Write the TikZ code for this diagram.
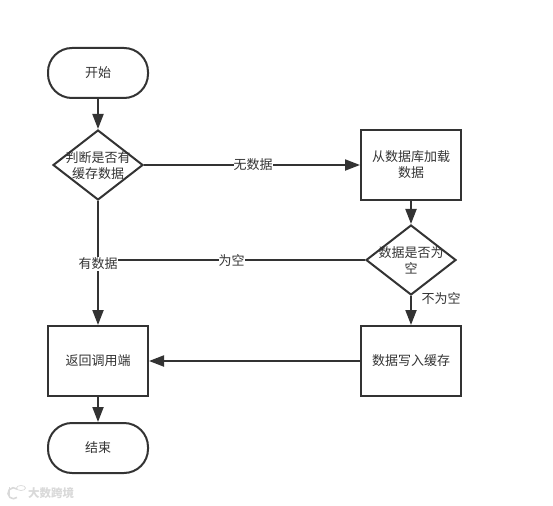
\documentclass[tikz,border=0pt]{standalone}
\usepackage{fontspec}
\setmainfont{Noto Sans CJK SC}
\usetikzlibrary{arrows.meta,shapes.geometric}
\definecolor{ink}{HTML}{333333}
\definecolor{wm}{HTML}{D9D9D9}
\newcommand\lowtxt[1]{\raisebox{-1pt}{#1}}
\tikzset{
  box/.style={draw=ink,line width=2pt,minimum width=100pt,minimum height=70pt,inner sep=1pt,align=center,text=ink,font=\fontsize{13}{16}\selectfont},
  term/.style={box,rounded corners=24pt,minimum height=50pt},
  dec/.style={draw=ink,line width=2pt,diamond,aspect=1.2857,minimum width=90pt,minimum height=70pt,inner sep=0pt},
  dectext/.style={inner sep=0pt,align=center,text=ink,font=\fontsize{13}{16}\selectfont},
  link/.style={draw=ink,line width=2pt,-{Triangle[length=15pt,width=11pt]}},
  plain/.style={draw=ink,line width=2pt},
  lab/.style={fill=white,inner xsep=0pt,inner ysep=0.5pt,text=ink,font=\fontsize{13}{13}\selectfont}
}
\begin{document}
\begin{tikzpicture}[x=1pt,y=-1pt]
\useasboundingbox (0,0) rectangle (553,505);
\node[term] (start) at (98,73) {\lowtxt{开始}};
\node[dec] (d1) at (98,165) {};
\node[dectext] (d1t) at (98,166) {判断是否有\\缓存数据};
\node[box] (load) at (411,165) {\lowtxt{从数据库加载}\\\lowtxt{数据}};
\node[dec] (d2) at (411,260) {};
\node[dectext] (d2t) at (411,260) {数据是否为\\空};
\node[box] (write) at (411,361) {\lowtxt{数据写入缓存}};
\node[box] (ret) at (98,361) {\lowtxt{返回调用端}};
\node[term] (stop) at (98,448) {\lowtxt{结束}};
\coordinate (join) at (98,260);
\draw[link] (start) -- (d1);
\draw[link] (d1) -- node[lab,pos=0.505] (l1) {无数据} (load);
\draw[link] (load) -- (d2);
\draw[plain] (d2) -- node[lab,pos=0.5,yshift=-0.5pt] (l2) {为空} (join);
\draw[link] (d1) -- (ret);
\node[lab] (l3) at (98,264) {有数据};
\draw[link] (d2) -- (write);
\node[text=ink,font=\fontsize{13}{13}\selectfont,inner sep=0pt] (l4) at (441,299) {不为空};
\draw[link] (write) -- (ret);
\draw[link] (ret) -- (stop);
\node[text=wm,font=\fontsize{11.5}{11.5}\selectfont\bfseries,inner sep=0pt] (mark) at (51,493) {大数跨境};
\draw[wm,line width=1.6pt] (17,489) arc[start angle=50,end angle=310,radius=5.5pt];
\draw[wm,line width=1pt] (9,487) -- (9,498);
\node[draw=wm,line width=0.7pt,ellipse,minimum width=9pt,minimum height=5pt,inner sep=0pt] (logo) at (21,488) {};
\end{tikzpicture}
\end{document}
